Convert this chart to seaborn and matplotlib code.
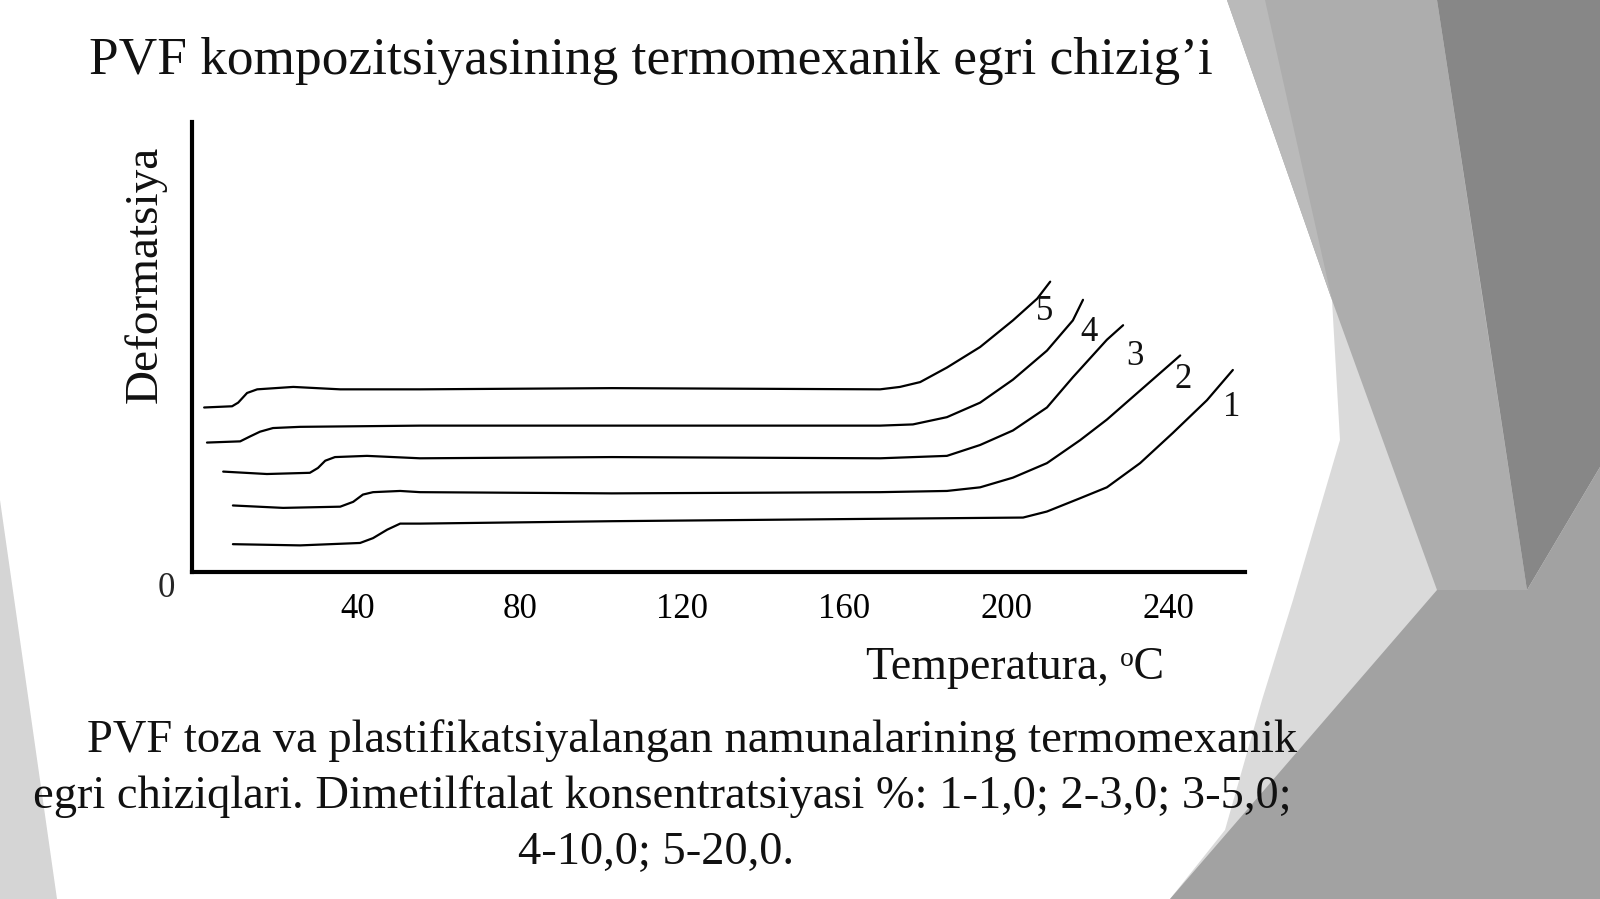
import matplotlib
matplotlib.use("Agg")
import matplotlib.pyplot as plt
from matplotlib.patches import Polygon
import pandas as pd
import seaborn as sns

# Thermomechanical curves (deformation in y-tick units)
t1 = [9.1, 25.7, 40.5, 43.7, 47.2, 50.4, 55.3, 102.7, 168.9, 204.2, 210.1, 218.3, 224.9, 233.1, 241.2, 249.6, 256.0]
d1 = [0.23, 0.22, 0.24, 0.28, 0.35, 0.40, 0.40, 0.42, 0.44, 0.45, 0.50, 0.61, 0.70, 0.90, 1.15, 1.42, 1.67]

t2 = [9.1, 21.5, 35.6, 38.8, 41.2, 43.7, 50.4, 55.3, 102.7, 168.9, 185.4, 193.6, 201.7, 210.1, 218.3, 224.9, 233.1, 243.0]
d2 = [0.55, 0.53, 0.54, 0.58, 0.64, 0.66, 0.67, 0.66, 0.65, 0.66, 0.67, 0.70, 0.78, 0.90, 1.09, 1.26, 1.50, 1.79]

t3 = [6.7, 17.5, 28.1, 30.1, 31.9, 34.3, 42.2, 55.3, 102.7, 168.9, 185.4, 193.6, 201.7, 210.1, 216.5, 224.9, 228.9]
d3 = [0.83, 0.81, 0.82, 0.86, 0.92, 0.95, 0.96, 0.94, 0.95, 0.94, 0.96, 1.05, 1.17, 1.36, 1.61, 1.92, 2.04]

t4 = [2.7, 10.9, 13.3, 15.8, 19.0, 25.7, 55.3, 102.7, 168.9, 177.0, 185.4, 193.6, 201.7, 210.1, 216.5, 219.0]
d4 = [1.07, 1.08, 1.12, 1.16, 1.19, 1.20, 1.21, 1.21, 1.21, 1.22, 1.28, 1.40, 1.59, 1.83, 2.08, 2.25]

t5 = [2.0, 8.9, 10.4, 12.6, 15.1, 24.0, 35.6, 55.3, 102.7, 168.9, 173.8, 178.8, 185.4, 193.6, 201.7, 207.7, 210.9]
d5 = [1.36, 1.37, 1.40, 1.48, 1.51, 1.53, 1.51, 1.51, 1.52, 1.51, 1.53, 1.57, 1.69, 1.86, 2.08, 2.26, 2.40]

curve_names = ["1", "2", "3", "4", "5"]
label_t = [255.8, 243.7, 231.9, 220.5, 209.6]
label_d = [1.36, 1.59, 1.78, 1.98, 2.15]

x_ticks = [40, 80, 120, 160, 200, 240]
y_ticks = [1, 2, 3]

title = "PVF kompozitsiyasining termomexanik egri chizig’i"
caption = [
    "PVF toza va plastifikatsiyalangan namunalarining termomexanik",
    "egri chiziqlari. Dimetilftalat konsentratsiyasi %: 1-1,0; 2-3,0; 3-5,0;",
    "4-10,0; 5-20,0.",
]

frames = []
for name, t, d in zip(curve_names, [t1, t2, t3, t4, t5], [d1, d2, d3, d4, d5]):
    frames.append(pd.DataFrame({"T": t, "D": d, "curve": name}))
df = pd.concat(frames, ignore_index=True)

sns.set_theme(style="white")
plt.rcParams["font.family"] = ["Liberation Serif", "DejaVu Serif", "DejaVu Sans"]

W, H = 1600, 899
fig = plt.figure(figsize=(16, 8.99), dpi=100)
fig.patch.set_facecolor("white")


def fpts(pts):
    return [(x / W, 1 - y / H) for x, y in pts]


# slide decoration (grey facets)
facets = [
    ([(1227, 0), (1600, 0), (1600, 899), (1170, 899), (1225, 830), (1262, 700),
      (1293, 600), (1340, 440), (1332, 300)], "#dadada"),
    ([(1227, 0), (1437, 0), (1527, 590), (1437, 590), (1332, 300)], "#adadad"),
    ([(1227, 0), (1265, 0), (1332, 300)], "#bababa"),
    ([(1437, 0), (1600, 0), (1600, 467), (1527, 590), (1483, 300)], "#878787"),
    ([(1170, 899), (1437, 590), (1527, 590), (1600, 467), (1600, 899)], "#a2a2a2"),
    ([(0, 500), (57, 899), (0, 899)], "#d5d5d5"),
]
for pts, col in facets:
    fig.add_artist(Polygon(fpts(pts), closed=True, transform=fig.transFigure,
                           facecolor=col, edgecolor="none", zorder=0.1))

ax = fig.add_axes([192 / W, 1 - 572 / H, 1053 / W, 450 / H])
ax.set_zorder(2)
ax.patch.set_alpha(0)

sns.lineplot(data=df, x="T", y="D", units="curve", estimator=None, sort=False,
             color="black", linewidth=1.6, ax=ax, legend=False)

for name, t, d in zip(curve_names, label_t, label_d):
    ax.text(t, d, name, fontsize=25, ha="center", va="center", color="#111111")

ax.set_xlim(-1, 259)
ax.set_ylim(0, 3.72)
ax.set_xticks(x_ticks)
ax.set_xticklabels([str(v) for v in x_ticks])
ax.set_yticks(y_ticks)
ax.set_yticklabels([])
ax.tick_params(axis="x", direction="in", length=5, width=1.5, pad=15,
               labelsize=25, colors="black")
ax.tick_params(axis="y", direction="in", length=6, width=1.5)
for side in ["top", "right"]:
    ax.spines[side].set_visible(False)
for side in ["left", "bottom"]:
    ax.spines[side].set_linewidth(3)
    ax.spines[side].set_color("black")

ax.text(-7.4, -0.14, "0", fontsize=25, ha="center", va="center", clip_on=False)

ax.set_ylabel("Deformatsiya", fontsize=34, color="#111111", va="center")
ax.yaxis.set_label_coords((145 - 192) / 1053, (572 - 274) / 450)
ax.set_xlabel("Temperatura, ᵒC", fontsize=33, color="#111111", va="center")
ax.xaxis.set_label_coords((1015 - 192) / 1053, (572 - 668) / 450)

fig.text(89 / W, 1 - 74 / H, title, fontsize=38.4, va="baseline", color="#111111")
fig.text(87 / W, 1 - 752 / H, caption[0], fontsize=33.5, va="baseline", color="#111111")
fig.text(33 / W, 1 - 808 / H, caption[1], fontsize=33.5, va="baseline", color="#111111")
fig.text(656 / W, 1 - 864 / H, caption[2], fontsize=33.5, va="baseline", ha="center",
         color="#111111")

fig.savefig("out.png", dpi=100)
